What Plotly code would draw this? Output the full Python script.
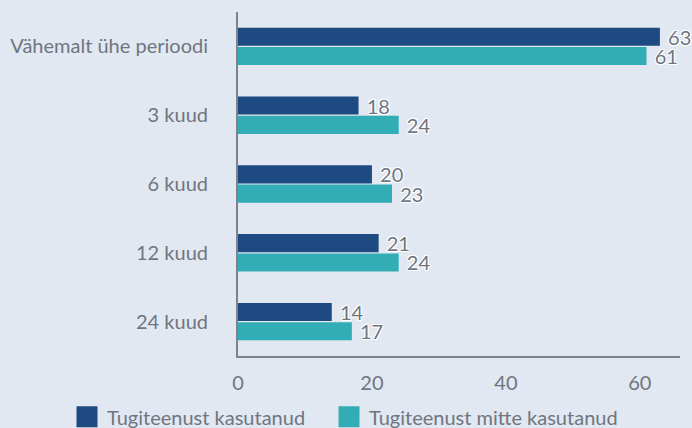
import plotly.graph_objects as go

categories = ["Vähemalt ühe perioodi", "3 kuud", "6 kuud", "12 kuud", "24 kuud"]
series_names = ["Tugiteenust kasutanud", "Tugiteenust mitte kasutanud"]
used = [63, 18, 20, 21, 14]
not_used = [61, 24, 23, 24, 17]
x_ticks = [0, 20, 40, 60]

colors = ["#1d4a80", "#33adb5"]
font_family = "Lato, 'Open Sans', sans-serif"
grey = "#70757f"
shadow = "1px 1px 0 #fff, -1px -1px 0 #fff, 1px -1px 0 #fff, -1px 1px 0 #fff"
FS = 20

fig = go.Figure()
legend_ids = ["legend", "legend2"]
for name, vals, col, lg in zip(series_names, [used, not_used], colors, legend_ids):
    fig.add_trace(go.Bar(
        y=categories, x=vals, name=name, orientation="h",
        marker=dict(color=col, line=dict(width=0)),
        text=[str(v) for v in vals], texttemplate="\u00a0%{text}", textposition="outside",
        constraintext="none",
        textfont=dict(family=font_family, size=FS, color=grey, shadow=shadow),
        cliponaxis=False, showlegend=False,
    ))
    fig.add_trace(go.Scatter(
        x=[None], y=[None], mode="markers", name=name, legend=lg,
        marker=dict(symbol="square", size=16, color=col, line=dict(color=col, width=5)),
        showlegend=True,
    ))

leg_common = dict(orientation="h", xref="container", yref="container", xanchor="left",
                  yanchor="middle", y=0.026, font=dict(size=FS, color=grey),
                  bgcolor="rgba(0,0,0,0)", itemsizing="trace")

fig.update_layout(
    width=692, height=428,
    margin=dict(l=238, r=12, t=12, b=72, autoexpand=False),
    paper_bgcolor="#e1e8f2", plot_bgcolor="#e1e8f2",
    barmode="group", bargap=0.44, bargroupgap=0.06,
    font=dict(family=font_family, color=grey, size=FS),
    showlegend=True,
    legend=dict(x=67 / 692, **leg_common),
    legend2=dict(x=329 / 692, **leg_common),
    xaxis=dict(range=[0, 66], tickvals=x_ticks, showgrid=False, zeroline=False,
               showline=True, linecolor="#7d828b", linewidth=2,
               tickfont=dict(size=FS, color=grey), ticks="", ticklabelstandoff=8),
    yaxis=dict(autorange="reversed", showgrid=False, showline=True,
               linecolor="#7d828b", linewidth=2, ticks="",
               tickfont=dict(size=FS, color=grey), ticklabelstandoff=24),
)

fig.write_html("out.html", config={"displayModeBar": False},
               post_script="document.body.style.margin='0';document.body.style.padding='0';")
